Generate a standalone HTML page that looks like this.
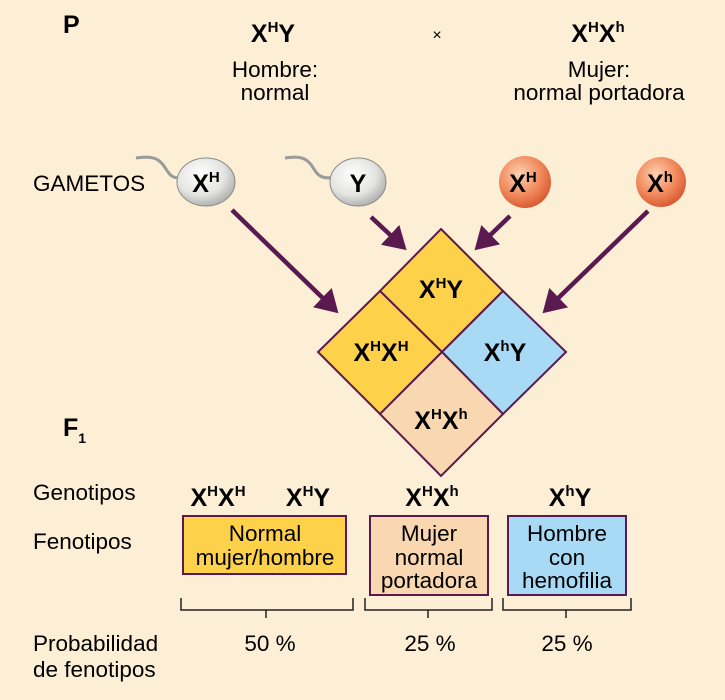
<!DOCTYPE html>
<html><head><meta charset="utf-8"><style>
html,body{margin:0;padding:0;background:#fdefd6;}
svg{display:block;font-family:"Liberation Sans",sans-serif;}
.b{font-weight:bold;font-size:25px;}
.n{font-size:22.5px;}
</style></head><body>
<svg width="725" height="700" viewBox="0 0 725 700" xmlns="http://www.w3.org/2000/svg">
<defs>
<radialGradient id="eg" cx="0.4" cy="0.35" r="0.7"><stop offset="0" stop-color="#ffffff"/><stop offset="0.6" stop-color="#e4e4e2"/><stop offset="1" stop-color="#a9aaa8"/></radialGradient>
<radialGradient id="ov" cx="0.4" cy="0.35" r="0.7"><stop offset="0" stop-color="#fcd1b0"/><stop offset="0.6" stop-color="#f0875a"/><stop offset="1" stop-color="#d4552e"/></radialGradient>
<marker id="ah" markerWidth="6" markerHeight="6" refX="3" refY="3" orient="auto" markerUnits="strokeWidth"><path d="M0,0 L5,3 L0,6 Z" fill="#5a1a50"/></marker>
</defs>
<rect width="725" height="700" fill="#fdefd6"/>
<text x="63" y="33" class="b" font-size="25">P</text>
<text x="273" y="42" class="b" text-anchor="middle">X<tspan font-size="15" dy="-10">H</tspan><tspan dy="10">Y</tspan></text>
<text x="437" y="40" font-size="16" text-anchor="middle">×</text>
<text x="598" y="42" class="b" text-anchor="middle">X<tspan font-size="15" dy="-10">H</tspan><tspan dy="10">X</tspan><tspan font-size="15" dy="-10">h</tspan></text>
<text x="275" y="77" class="n" text-anchor="middle">Hombre:</text>
<text x="275" y="100" class="n" text-anchor="middle">normal</text>
<text x="599" y="77" class="n" text-anchor="middle">Mujer:</text>
<text x="599" y="100" class="n" text-anchor="middle">normal portadora</text>
<text x="33" y="191" class="n">GAMETOS</text>
<path d="M136,158 C160,154 162,164 168,172 C172,178 176,178 182,178" fill="none" stroke="#9a9a98" stroke-width="3"/>
<ellipse cx="206" cy="182" rx="29" ry="24" fill="url(#eg)" stroke="#8a8a88" stroke-width="1"/>
<text x="206" y="192" class="b" text-anchor="middle">X<tspan font-size="15" dy="-10">H</tspan></text>
<path d="M285,158 C308,154 310,164 316,172 C320,178 326,178 333,178" fill="none" stroke="#9a9a98" stroke-width="3"/>
<ellipse cx="358" cy="182" rx="28" ry="24" fill="url(#eg)" stroke="#8a8a88" stroke-width="1"/>
<text x="358" y="192" class="b" text-anchor="middle">Y</text>
<circle cx="525" cy="182" r="26" fill="url(#ov)"/>
<text x="523" y="192" class="b" text-anchor="middle">X<tspan font-size="15" dy="-10">H</tspan></text>
<circle cx="661" cy="182" r="25" fill="url(#ov)"/>
<text x="660" y="192" class="b" text-anchor="middle">X<tspan font-size="15" dy="-10">h</tspan></text>
<g stroke="#5a1a50" stroke-width="4.5" fill="none">
<line x1="232" y1="210" x2="332" y2="307" marker-end="url(#ah)"/>
<line x1="371" y1="217" x2="400" y2="244" marker-end="url(#ah)"/>
<line x1="510" y1="216" x2="481" y2="244" marker-end="url(#ah)"/>
<line x1="648" y1="211" x2="549" y2="307" marker-end="url(#ah)"/>
</g>
<g stroke="#5a1a50" stroke-width="2">
<polygon points="441,229 503,291 442,352 380,291" fill="#fdd14a"/>
<polygon points="380,291 442,352 380,414 318,352" fill="#fdd14a"/>
<polygon points="503,291 566,352 503,414 442,352" fill="#a8daf6"/>
<polygon points="442,352 503,414 441,476 380,414" fill="#f9d7b0"/>
</g>
<text x="441" y="298" class="b" text-anchor="middle">X<tspan font-size="15" dy="-10">H</tspan><tspan dy="10">Y</tspan></text>
<text x="381" y="361" class="b" text-anchor="middle">X<tspan font-size="15" dy="-10">H</tspan><tspan dy="10">X</tspan><tspan font-size="15" dy="-10">H</tspan></text>
<text x="505" y="361" class="b" text-anchor="middle">X<tspan font-size="15" dy="-10">h</tspan><tspan dy="10">Y</tspan></text>
<text x="441" y="429" class="b" text-anchor="middle">X<tspan font-size="15" dy="-10">H</tspan><tspan dy="10">X</tspan><tspan font-size="15" dy="-10">h</tspan></text>
<text x="63" y="436" class="b" font-size="25">F<tspan font-size="14" dy="7">1</tspan></text>
<text x="33" y="500" class="n">Genotipos</text>
<text x="33" y="549" class="n">Fenotipos</text>
<text x="33" y="651" class="n">Probabilidad</text>
<text x="33" y="677" class="n">de fenotipos</text>
<text x="218" y="506" class="b" text-anchor="middle">X<tspan font-size="15" dy="-10">H</tspan><tspan dy="10">X</tspan><tspan font-size="15" dy="-10">H</tspan></text>
<text x="308" y="506" class="b" text-anchor="middle">X<tspan font-size="15" dy="-10">H</tspan><tspan dy="10">Y</tspan></text>
<text x="432" y="506" class="b" text-anchor="middle">X<tspan font-size="15" dy="-10">H</tspan><tspan dy="10">X</tspan><tspan font-size="15" dy="-10">h</tspan></text>
<text x="570" y="506" class="b" text-anchor="middle">X<tspan font-size="15" dy="-10">h</tspan><tspan dy="10">Y</tspan></text>
<g stroke="#5a1a50" stroke-width="2">
<rect x="183" y="516" width="163" height="58" fill="#fdd14a"/>
<rect x="370" y="516" width="118" height="79" fill="#f9d7b0"/>
<rect x="508" y="516" width="118" height="79" fill="#a8daf6"/>
</g>
<text x="265" y="541" class="n" text-anchor="middle">Normal</text>
<text x="265" y="565" class="n" text-anchor="middle">mujer/hombre</text>
<text x="429" y="541" class="n" text-anchor="middle">Mujer</text>
<text x="429" y="565" class="n" text-anchor="middle">normal</text>
<text x="429" y="588" class="n" text-anchor="middle">portadora</text>
<text x="567" y="541" class="n" text-anchor="middle">Hombre</text>
<text x="567" y="565" class="n" text-anchor="middle">con</text>
<text x="567" y="588" class="n" text-anchor="middle">hemofilia</text>
<g stroke="#222" stroke-width="1.5" fill="none">
<path d="M181,598 V610 H353 V598 M266,610 V618"/>
<path d="M365,598 V610 H492 V598 M428,610 V618"/>
<path d="M503,598 V610 H631 V598 M566,610 V618"/>
</g>
<text x="270" y="651" class="n" text-anchor="middle">50 %</text>
<text x="430" y="651" class="n" text-anchor="middle">25 %</text>
<text x="567" y="651" class="n" text-anchor="middle">25 %</text>
</svg>
</body></html>
